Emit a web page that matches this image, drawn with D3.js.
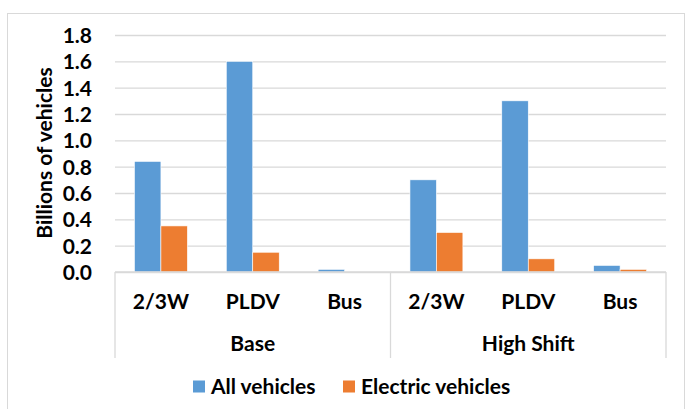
<!DOCTYPE html>
<html>
<head>
<meta charset="utf-8">
<script src="https://cdn.jsdelivr.net/npm/d3@7"></script>
<style>
  body { margin: 0; background: #fff; }
  text { font-family: Lato, "Open Sans", sans-serif; font-weight: bold; fill: #000; }
</style>
</head>
<body>
<svg id="chart" width="686" height="409"></svg>
<script>
const scenarios = ["Base", "High Shift"];
const modes = ["2/3W", "PLDV", "Bus"];
const seriesNames = ["All vehicles", "Electric vehicles"];
const allVehicles = [0.84, 1.6, 0.02, 0.7, 1.3, 0.05];
const electricVehicles = [0.35, 0.15, 0.0, 0.3, 0.1, 0.02];
const yTicks = [0, 0.2, 0.4, 0.6, 0.8, 1.0, 1.2, 1.4, 1.6, 1.8];
const colors = ["#5b9bd5", "#ed7d31"];
const fontSize = "21px";

const svg = d3.select("#chart");
const margin = { top: 35, left: 115, right: 20, bottom: 137 };
const width = 686 - margin.left - margin.right;   // plot area
const height = 409 - margin.top - margin.bottom;

// outer border of chart
svg.append("rect")
  .attr("x", 7.5).attr("y", 13.5)
  .attr("width", 677).attr("height", 400)
  .attr("fill", "none").attr("stroke", "#d9d9d9");

const g = svg.append("g").attr("transform", `translate(${margin.left},${margin.top})`);

const y = d3.scaleLinear().domain([0, 1.8]).range([height, 0]);

const keys = [];
scenarios.forEach(s => modes.forEach(m => keys.push(s + "|" + m)));
const x = d3.scaleBand().domain(keys).range([0, width]);
const xs = d3.scaleBand().domain(seriesNames).range([0, x.bandwidth()]).paddingOuter(0.735);
const xg = d3.scaleBand().domain(scenarios).range([0, width]);

// gridlines
g.append("g")
  .call(d3.axisLeft(y).tickValues(yTicks).tickSize(-width).tickFormat(""))
  .call(a => a.select(".domain").remove())
  .selectAll(".tick line")
  .attr("stroke", "#d9d9d9").attr("stroke-width", 1.3);

// y axis labels
g.append("g")
  .call(d3.axisLeft(y).tickValues(yTicks).tickSize(0).tickPadding(23).tickFormat(d3.format(".1f")))
  .call(a => a.select(".domain").remove())
  .selectAll("text").style("font-size", fontSize).attr("dy", "0.35em");

// bars
const rows = keys.map((k, i) => ({ key: k, values: [allVehicles[i], electricVehicles[i]] }));
const grp = g.selectAll(".cat").data(rows).enter().append("g")
  .attr("transform", d => `translate(${x(d.key)},0)`);
grp.selectAll("rect")
  .data(d => d.values.map((v, j) => ({ name: seriesNames[j], v, j })))
  .enter().append("rect")
  .attr("x", d => xs(d.name))
  .attr("y", d => y(d.v))
  .attr("width", xs.bandwidth())
  .attr("height", d => height - y(d.v))
  .attr("fill", d => colors[d.j])
  .attr("stroke", "#fff").attr("stroke-width", 0.6);

// x axis line and group separators
const sepBottom = 86;
const xa = g.append("g").attr("transform", `translate(0,${height})`);
xa.append("line").attr("x1", 0).attr("x2", width).attr("y1", 0).attr("y2", 0)
  .attr("stroke", "#d9d9d9").attr("stroke-width", 1.3);
[0, xg("High Shift"), width].forEach(px => {
  xa.append("line").attr("x1", px).attr("x2", px).attr("y1", 0).attr("y2", sepBottom)
    .attr("stroke", "#d9d9d9").attr("stroke-width", 1.3);
});

// category labels
xa.selectAll(".mode").data(keys).enter().append("text")
  .attr("x", d => x(d) + x.bandwidth() / 2)
  .attr("y", 30)
  .attr("dy", "0.35em")
  .attr("text-anchor", "middle")
  .style("font-size", fontSize)
  .text(d => d.split("|")[1]);

xa.selectAll(".scen").data(scenarios).enter().append("text")
  .attr("x", d => xg(d) + xg.bandwidth() / 2)
  .attr("y", 72)
  .attr("dy", "0.35em")
  .attr("text-anchor", "middle")
  .style("font-size", fontSize)
  .text(d => d);

// y title
svg.append("text")
  .attr("transform", "translate(45,153) rotate(-90)")
  .attr("text-anchor", "middle")
  .attr("dy", "0.35em")
  .style("font-size", fontSize)
  .text("Billions of vehicles");

// legend
const legendX = [193, 343];
const lg = svg.append("g").attr("transform", "translate(0,387)");
seriesNames.forEach((n, i) => {
  lg.append("rect").attr("x", legendX[i]).attr("y", -6.5).attr("width", 12).attr("height", 12).attr("fill", colors[i]);
  lg.append("text").attr("x", legendX[i] + 18).attr("y", 0).attr("dy", "0.35em")
    .style("font-size", fontSize).text(n);
});
</script>
</body>
</html>
